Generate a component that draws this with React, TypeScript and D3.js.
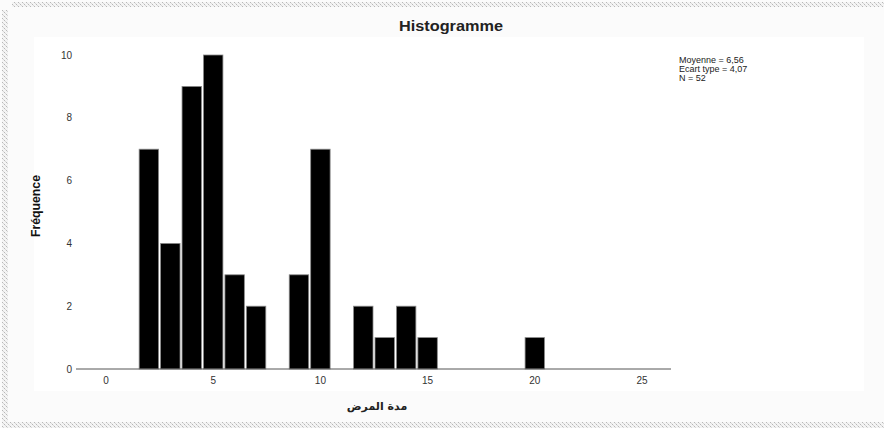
import React from "react";
import * as d3 from "d3";

const binCenters = [2, 3, 4, 5, 6, 7, 9, 10, 12, 13, 14, 15, 20];
const frequencies = [7, 4, 9, 10, 3, 2, 3, 7, 2, 1, 2, 1, 1];
const xTicks = [0, 5, 10, 15, 20, 25];
const yTicks = [0, 2, 4, 6, 8, 10];
const statsLines = ["Moyenne = 6,56", "Ecart type = 4,07", "N = 52"];
const title = "Histogramme";
const xLabel = "مدة المرض";
const yLabel = "Fréquence";

const W = 884;
const H = 428;

export default function App() {
  const x = d3.scaleLinear().domain([0, 25]).range([106, 642]);
  const y = d3.scaleLinear().domain([0, 10]).range([369, 55]);
  const binW = 1;
  const font = "'Liberation Sans', Arial, sans-serif";

  return (
    <svg
      width={W}
      height={H}
      style={{ position: "fixed", left: 0, top: 0, background: "#fbfbfb" }}
    >
      <defs>
        <pattern id="dots" width="4" height="4" patternUnits="userSpaceOnUse">
          <rect width="4" height="4" fill="#f4f4f4" />
          <rect x="0" y="0" width="1" height="1" fill="#b8b8b8" />
          <rect x="2" y="2" width="1" height="1" fill="#b8b8b8" />
          <rect x="1" y="1" width="1" height="1" fill="#d8d8d8" />
          <rect x="3" y="3" width="1" height="1" fill="#d8d8d8" />
        </pattern>
      </defs>
      {/* outer frame */}
      <rect x={12} y={2} width={W - 12} height={5} fill="url(#dots)" />
      <rect x={2} y={10} width={6} height={H - 10} fill="url(#dots)" />
      <rect x={8} y={422} width={W - 8} height={6} fill="url(#dots)" />
      <rect x={8} y={7} width={W - 8} height={415} fill="#fbfbfb" />
      {/* inner panel */}
      <rect x={34} y={37} width={830} height={354} fill="#ffffff" />

      {/* title */}
      <text
        x={451}
        y={31}
        textAnchor="middle"
        fontFamily={font}
        fontWeight="bold"
        fontSize={14.5}
        fill="#222"
        textLength={104}
        lengthAdjust="spacingAndGlyphs"
      >
        {title}
      </text>

      {/* bars */}
      {binCenters.map((c, i) => {
        const x0 = x(c - binW / 2);
        const x1 = x(c + binW / 2);
        return (
          <rect
            key={i}
            x={x0 + 1}
            y={y(frequencies[i])}
            width={x1 - x0 - 2}
            height={y(0) - y(frequencies[i])}
            fill="#000"
            stroke="#8a8a8a"
            strokeWidth={0.8}
          />
        );
      })}

      {/* x axis line */}
      <line x1={76} x2={671} y1={y(0)} y2={y(0)} stroke="#555" strokeWidth={1} />

      {/* y tick labels */}
      {yTicks.map((t) => (
        <text
          key={t}
          x={72}
          y={y(t)}
          dy="0.35em"
          textAnchor="end"
          fontFamily={font}
          fontSize={10}
          fill="#333"
        >
          {t}
        </text>
      ))}

      {/* x tick labels */}
      {xTicks.map((t) => (
        <text
          key={t}
          x={x(t)}
          y={380}
          dy="0.35em"
          textAnchor="middle"
          fontFamily={font}
          fontSize={10}
          fill="#333"
        >
          {t}
        </text>
      ))}

      {/* y label */}
      <text
        transform={`translate(40,206) rotate(-90)`}
        textAnchor="middle"
        fontFamily={font}
        fontSize={13}
        fontWeight={600}
        fill="#111"
        textLength={62}
        lengthAdjust="spacingAndGlyphs"
      >
        {yLabel}
      </text>

      {/* x label */}
      <text
        x={377}
        y={410}
        textAnchor="middle"
        fontFamily="'DejaVu Sans', sans-serif"
        fontWeight="bold"
        fontSize={11}
        fill="#222"
        direction="rtl"
      >
        {xLabel}
      </text>

      {/* stats */}
      {statsLines.map((s, i) => (
        <text
          key={i}
          x={679}
          y={63 + i * 9}
          fontFamily={font}
          fontSize={9}
          fill="#222"
        >
          {s}
        </text>
      ))}
    </svg>
  );
}
